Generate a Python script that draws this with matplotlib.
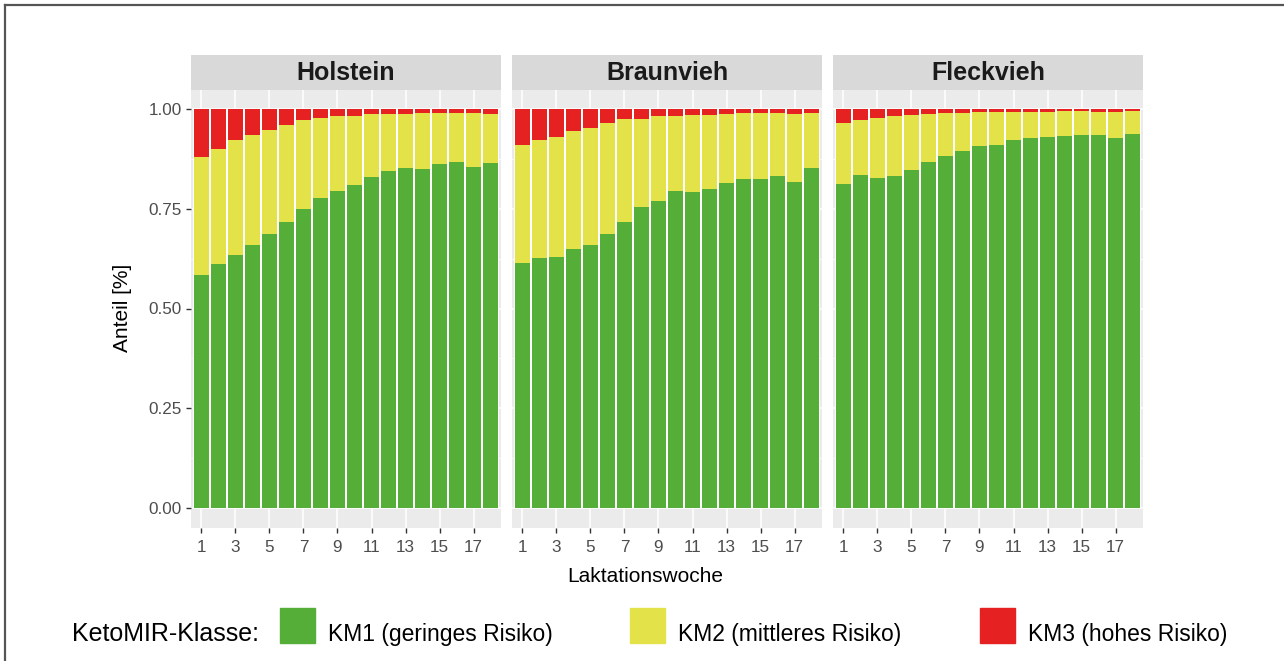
import numpy as np
import matplotlib
matplotlib.use("Agg")
import matplotlib.pyplot as plt
from matplotlib.patches import Rectangle
from matplotlib.lines import Line2D

plt.rcParams['font.family'] = ['Liberation Sans', 'DejaVu Sans']

# --- DATEN ---
wochen = list(range(1, 19))
rassen = ['Holstein', 'Braunvieh', 'Fleckvieh']
klassen = ['KM1 (geringes Risiko)', 'KM2 (mittleres Risiko)', 'KM3 (hohes Risiko)']
farben = ['#55AE37', '#E3E349', '#E52121']

# Anteil KM1 je Woche
km1_holstein = [0.584, 0.612, 0.634, 0.659, 0.687, 0.717, 0.749, 0.777, 0.794,
                0.809, 0.830, 0.845, 0.852, 0.850, 0.862, 0.867, 0.855, 0.865]
km1_braunvieh = [0.614, 0.627, 0.629, 0.649, 0.659, 0.687, 0.717, 0.754, 0.769,
                 0.794, 0.792, 0.799, 0.815, 0.825, 0.825, 0.832, 0.817, 0.852]
km1_fleckvieh = [0.812, 0.835, 0.827, 0.832, 0.847, 0.867, 0.882, 0.895, 0.907,
                 0.910, 0.922, 0.927, 0.930, 0.932, 0.935, 0.935, 0.927, 0.937]

# Anteil KM3 je Woche
km3_holstein = [0.120, 0.100, 0.078, 0.065, 0.053, 0.040, 0.028, 0.023, 0.018,
                0.018, 0.013, 0.013, 0.013, 0.010, 0.010, 0.010, 0.010, 0.013]
km3_braunvieh = [0.090, 0.078, 0.070, 0.055, 0.048, 0.035, 0.025, 0.025, 0.018,
                 0.018, 0.015, 0.015, 0.013, 0.010, 0.010, 0.010, 0.013, 0.010]
km3_fleckvieh = [0.035, 0.028, 0.023, 0.018, 0.015, 0.013, 0.010, 0.010, 0.008,
                 0.008, 0.008, 0.008, 0.008, 0.005, 0.005, 0.008, 0.008, 0.005]

km1 = {'Holstein': km1_holstein, 'Braunvieh': km1_braunvieh, 'Fleckvieh': km1_fleckvieh}
km3 = {'Holstein': km3_holstein, 'Braunvieh': km3_braunvieh, 'Fleckvieh': km3_fleckvieh}

# --- LAYOUT (Pixel) ---
W, H = 1284, 661
panel_links = [191, 512, 833]
panel_breite = 310
panel_oben, panel_unten = 89, 528
streifen_oben = 55

fig = plt.figure(figsize=(W / 100, H / 100), dpi=100)


def px_box(x0, y0, x1, y1):
    return [x0 / W, 1 - y1 / H, (x1 - x0) / W, (y1 - y0) / H]


for i, rasse in enumerate(rassen):
    x0 = panel_links[i]
    ax = fig.add_axes(px_box(x0, panel_oben, x0 + panel_breite, panel_unten))
    ax.set_facecolor('#EBEBEB')
    for s in ax.spines.values():
        s.set_visible(False)

    g = np.array(km1[rasse])
    r = np.array(km3[rasse])
    y = 1 - g - r
    x = np.array(wochen)
    # weisse Fugen zwischen den Balken
    ax.bar(x, g + y + r, width=1.0, color='white', zorder=2)
    ax.bar(x, g, width=0.9, color=farben[0], zorder=3)
    ax.bar(x, y, bottom=g, width=0.9, color=farben[1], zorder=3)
    ax.bar(x, r, bottom=g + y, width=0.9, color=farben[2], zorder=3)

    ax.set_xlim(0.4, 18.6)
    ax.set_ylim(-0.05, 1.05)
    ax.set_xticks(range(1, 18, 2))
    ax.set_yticks([0, 0.25, 0.5, 0.75, 1.0])
    ax.set_yticks([0.125, 0.375, 0.625, 0.875], minor=True)
    ax.grid(True, which='major', color='white', lw=1.1, zorder=0)
    ax.grid(True, which='minor', axis='y', color='white', lw=0.55, zorder=0)
    ax.set_axisbelow(True)
    ax.tick_params(axis='both', which='major', length=3.5, width=1.0, color='#333333',
                   labelcolor='#4D4D4D', labelsize=12.3)
    ax.tick_params(axis='x', which='major', pad=5)
    ax.tick_params(axis='y', which='major', pad=3)
    ax.tick_params(axis='y', which='minor', length=0)
    if i == 0:
        ax.set_yticklabels(['0.00', '0.25', '0.50', '0.75', '1.00'])
    else:
        ax.tick_params(axis='y', which='major', length=0, labelleft=False)

    # Facettenstreifen
    sax = fig.add_axes(px_box(x0, streifen_oben, x0 + panel_breite, panel_oben + 1))
    sax.set_facecolor('#D9D9D9')
    sax.set_xticks([])
    sax.set_yticks([])
    for s in sax.spines.values():
        s.set_visible(False)
    sax.text(0.5, 0.48, rasse, ha='center', va='center', fontsize=18,
             fontweight='bold', color='#1A1A1A', transform=sax.transAxes)

# Achsentitel
fig.text(645 / W, 1 - 576 / H, 'Laktationswoche', ha='center', va='center',
         fontsize=15, color='black')
fig.text(123 / W, 1 - 308 / H, 'Anteil [%]', ha='center', va='center',
         fontsize=15, rotation=90, color='black')

# Legende
fig.text(72 / W, 1 - 634 / H, 'KetoMIR-Klasse:', ha='left', va='center',
         fontsize=18, color='black')
for k, (name, farbe) in enumerate(zip(klassen, farben)):
    kx = 280 + k * 350
    fig.patches.append(Rectangle((kx / W, 1 - 643 / H), 35 / W, 35 / H,
                                 transform=fig.transFigure, color=farbe))
    fig.text((kx + 48) / W, 1 - 635 / H, name, ha='left', va='center',
             fontsize=16.5, color='black')

# Rahmen (oben und links)
fig.lines.append(Line2D([5 / W, 1], [1 - 5 / H, 1 - 5 / H], transform=fig.transFigure,
                        color='#555555', lw=1.6))
fig.lines.append(Line2D([5 / W, 5 / W], [0, 1 - 5 / H], transform=fig.transFigure,
                        color='#555555', lw=1.6))

fig.savefig('out.png', dpi=100)
